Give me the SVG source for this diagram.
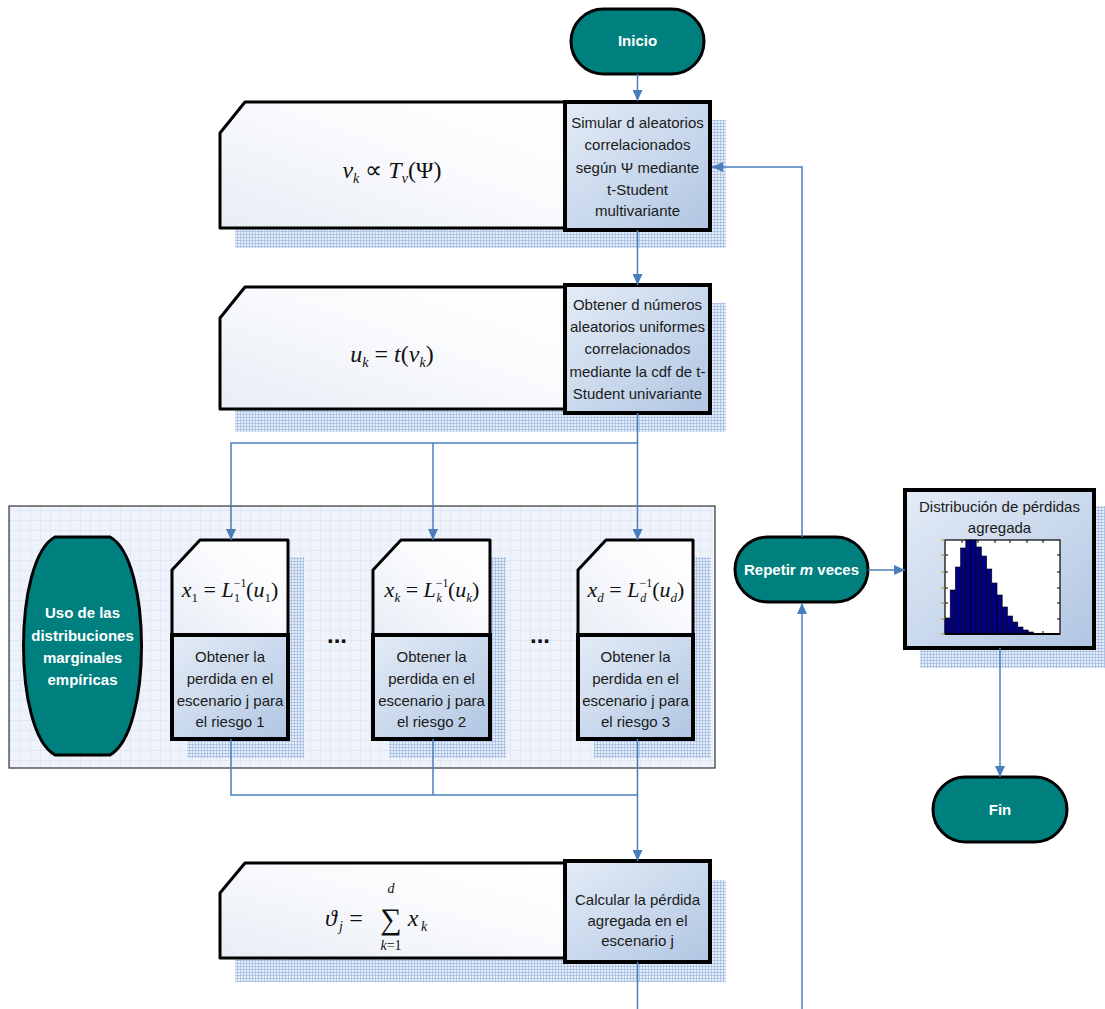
<svg xmlns="http://www.w3.org/2000/svg" width="1105" height="1009" viewBox="0 0 1105 1009">
<defs>
  <pattern id="mesh" width="3" height="3" patternUnits="userSpaceOnUse">
    <rect width="3" height="3" fill="#e8eef8"/>
    <path d="M0 0.5H3M0.5 0V3" stroke="#a3bce2" stroke-width="0.8"/>
  </pattern>
  <pattern id="grid" width="10" height="10" patternUnits="userSpaceOnUse">
    <rect width="10" height="10" fill="#eef2fa"/>
    <path d="M0 0.5H10M0.5 0V10" stroke="#dde4f1" stroke-width="0.7"/>
  </pattern>
  <linearGradient id="blueFill" x1="0" y1="0" x2="1" y2="1">
    <stop offset="0" stop-color="#e4ecf7"/>
    <stop offset="1" stop-color="#b1c6e2"/>
  </linearGradient>
  <linearGradient id="whiteFill" x1="0" y1="1" x2="1" y2="0">
    <stop offset="0" stop-color="#e8edf5"/>
    <stop offset="0.6" stop-color="#fafbfd"/>
    <stop offset="1" stop-color="#ffffff"/>
  </linearGradient>
  <marker id="arr" markerWidth="11" markerHeight="10" refX="11" refY="5" orient="auto" markerUnits="userSpaceOnUse">
    <path d="M0,0 L11,5 L0,10 Z" fill="#4a7ebb"/>
  </marker>
  <style>
    .shadow { fill: url(#mesh); }
    .wbox { fill: url(#whiteFill); stroke: #000; stroke-width: 3; stroke-linejoin: round; }
    .bbox { fill: url(#blueFill); stroke: #000; stroke-width: 4; }
    .term { fill: #007f7f; stroke: #000; stroke-width: 3; }
    .lbl { font-family: "Liberation Sans", Arial, sans-serif; font-size: 15px; fill: #1a1a1a; text-anchor: middle; }
    .tlbl { font-family: "Liberation Sans", Arial, sans-serif; font-size: 15px; font-weight: bold; fill: #ffffff; text-anchor: middle; }
    .math { font-family: "Liberation Serif", "Times New Roman", serif; font-size: 24px; fill: #111; text-anchor: middle; }
    .smath { font-family: "Liberation Serif", "Times New Roman", serif; font-size: 22px; fill: #111; text-anchor: middle; }
    .it { font-style: italic; }
    .conn { fill: none; stroke: #4a7ebb; stroke-width: 1.5; }
    .bar { fill: #000080; stroke: #000; stroke-width: 0.6; }
  </style>
</defs>
<rect width="1105" height="1009" fill="#ffffff"/>

<!-- container -->
<g id="container">
  <rect x="9" y="506" width="706" height="262" fill="url(#grid)" stroke="#333" stroke-width="1.2"/>
  <text x="337" y="643" font-family="Liberation Sans, Arial, sans-serif" font-size="24" font-weight="bold" text-anchor="middle" fill="#111">...</text>
  <text x="540" y="643" font-family="Liberation Sans, Arial, sans-serif" font-size="24" font-weight="bold" text-anchor="middle" fill="#111">...</text>
</g>

<!-- Inicio -->
<g id="n_inicio">
  <rect class="term" x="571" y="9" width="133" height="65" rx="32.5"/>
  <text class="tlbl" x="637.5" y="46">Inicio</text>
</g>

<!-- Box 1 -->
<g id="n_simular">
  <rect class="shadow" x="235" y="120" width="491" height="128"/>
  <path class="wbox" d="M245 102 L565 102 L565 228 L220 228 L220 133 Z"/>
  <rect class="bbox" x="565" y="102" width="145" height="128"/>
  <text class="math" x="392" y="178"><tspan class="it">v</tspan><tspan class="it" dy="5" font-size="14">k</tspan><tspan dy="-5"> ∝ </tspan><tspan class="it">T</tspan><tspan class="it" dy="5" font-size="14">v</tspan><tspan dy="-5">(Ψ)</tspan></text>
  <text class="lbl" x="637.5" y="128">Simular d aleatorios</text>
  <text class="lbl" x="637.5" y="150">correlacionados</text>
  <text class="lbl" x="637.5" y="173">según Ψ mediante</text>
  <text class="lbl" x="637.5" y="195">t-Student</text>
  <text class="lbl" x="637.5" y="216">multivariante</text>
</g>

<!-- Box 2 -->
<g id="n_uniformes">
  <rect class="shadow" x="235" y="303" width="491" height="129"/>
  <path class="wbox" d="M245 287 L565 287 L565 409 L220 409 L220 318 Z"/>
  <rect class="bbox" x="565" y="285" width="145" height="128"/>
  <text class="math" x="392" y="362"><tspan class="it">u</tspan><tspan class="it" dy="5" font-size="14">k</tspan><tspan dy="-5"> = </tspan><tspan class="it">t</tspan><tspan>(</tspan><tspan class="it">v</tspan><tspan class="it" dy="5" font-size="14">k</tspan><tspan dy="-5">)</tspan></text>
  <text class="lbl" x="637.5" y="310">Obtener d números</text>
  <text class="lbl" x="637.5" y="332">aleatorios uniformes</text>
  <text class="lbl" x="637.5" y="354">correlacionados</text>
  <text class="lbl" x="637.5" y="377">mediante la cdf de t-</text>
  <text class="lbl" x="637.5" y="399">Student univariante</text>
</g>

<!-- Marginales -->
<g id="n_marginales">
  <path class="term" d="M55 537 L110 537 C152 560 152 732 110 755 L55 755 C13 732 13 560 55 537 Z"/>
  <text class="tlbl" x="82.5" y="618">Uso de las</text>
  <text class="tlbl" x="82.5" y="641">distribuciones</text>
  <text class="tlbl" x="82.5" y="663">marginales</text>
  <text class="tlbl" x="82.5" y="685">empíricas</text>
</g>

<!-- x1 -->
<g id="n_x1">
  <rect class="shadow" x="187" y="557" width="117" height="201"/>
  <path class="wbox" d="M200 540 L288 540 L288 635 L172 635 L172 570 Z"/>
  <rect class="bbox" x="172" y="635" width="116" height="104"/>
  <text class="smath" x="230" y="597"><tspan class="it">x</tspan><tspan dy="5" font-size="13">1</tspan><tspan dy="-5"> = </tspan><tspan class="it">L</tspan><tspan dy="-10" font-size="12">−1</tspan><tspan dx="-12" dy="15" font-size="12">1</tspan><tspan dx="6" dy="-5">(</tspan><tspan class="it">u</tspan><tspan dy="5" font-size="13">1</tspan><tspan dy="-5">)</tspan></text>
  <text class="lbl" x="230" y="662">Obtener la</text>
  <text class="lbl" x="230" y="684">perdida en el</text>
  <text class="lbl" x="230" y="706">escenario j para</text>
  <text class="lbl" x="230" y="727">el riesgo 1</text>
</g>

<!-- xk -->
<g id="n_xk">
  <rect class="shadow" x="389" y="557" width="117" height="201"/>
  <path class="wbox" d="M401 540 L490 540 L490 635 L373 635 L373 570 Z"/>
  <rect class="bbox" x="373" y="635" width="117" height="104"/>
  <text class="smath" x="432" y="597"><tspan class="it">x</tspan><tspan class="it" dy="5" font-size="13">k</tspan><tspan dy="-5"> = </tspan><tspan class="it">L</tspan><tspan dy="-10" font-size="12">−1</tspan><tspan class="it" dx="-12" dy="15" font-size="12">k</tspan><tspan dx="6" dy="-5">(</tspan><tspan class="it">u</tspan><tspan class="it" dy="5" font-size="13">k</tspan><tspan dy="-5">)</tspan></text>
  <text class="lbl" x="431.5" y="662">Obtener la</text>
  <text class="lbl" x="431.5" y="684">perdida en el</text>
  <text class="lbl" x="431.5" y="706">escenario j para</text>
  <text class="lbl" x="431.5" y="727">el riesgo 2</text>
</g>

<!-- xd -->
<g id="n_xd">
  <rect class="shadow" x="594" y="557" width="117" height="201"/>
  <path class="wbox" d="M606 540 L693 540 L693 635 L578 635 L578 570 Z"/>
  <rect class="bbox" x="578" y="635" width="115" height="104"/>
  <text class="smath" x="636" y="597"><tspan class="it">x</tspan><tspan class="it" dy="5" font-size="13">d</tspan><tspan dy="-5"> = </tspan><tspan class="it">L</tspan><tspan dy="-10" font-size="12">−1</tspan><tspan class="it" dx="-12" dy="15" font-size="12">d</tspan><tspan dx="6" dy="-5">(</tspan><tspan class="it">u</tspan><tspan class="it" dy="5" font-size="13">d</tspan><tspan dy="-5">)</tspan></text>
  <text class="lbl" x="635.5" y="662">Obtener la</text>
  <text class="lbl" x="635.5" y="684">perdida en el</text>
  <text class="lbl" x="635.5" y="706">escenario j para</text>
  <text class="lbl" x="635.5" y="727">el riesgo 3</text>
</g>

<!-- Box 4 -->
<g id="n_agregada">
  <rect class="shadow" x="235" y="880" width="491" height="102"/>
  <path class="wbox" d="M245 863 L565 863 L565 958 L220 958 L220 893 Z"/>
  <rect class="bbox" x="565" y="861" width="145" height="101"/>
  <text class="math it" x="331" y="926">ϑ</text>
  <text class="math it" x="341" y="931" style="font-size:14px">j</text>
  <text class="math" x="356" y="926">=</text>
  <text class="math" x="391" y="929" style="font-size:30px">∑</text>
  <text class="math it" x="391" y="893" style="font-size:14px">d</text>
  <text class="math" x="391" y="950" style="font-size:14px"><tspan class="it">k</tspan>=1</text>
  <text class="math it" x="413" y="926">x</text>
  <text class="math it" x="424" y="931" style="font-size:14px">k</text>
  <text class="lbl" x="637.5" y="905">Calcular la pérdida</text>
  <text class="lbl" x="637.5" y="926">agregada en el</text>
  <text class="lbl" x="637.5" y="946">escenario j</text>
</g>

<!-- Repetir -->
<g id="n_repetir">
  <rect class="term" x="735" y="537" width="133" height="65" rx="32.5"/>
  <text class="tlbl" x="801.5" y="575">Repetir <tspan font-style="italic">m</tspan> veces</text>
</g>

<!-- Histogram -->
<g id="n_hist">
  <rect class="shadow" x="920" y="506" width="185" height="162"/>
  <rect class="bbox" x="905" y="490" width="189" height="158"/>
  <text class="lbl" x="999.5" y="512">Distribución de pérdidas</text>
  <text class="lbl" x="999.5" y="533">agregada</text>
  <rect x="945" y="540" width="115" height="94" fill="#fff" stroke="#000" stroke-width="1.2"/>
  <g>
    <rect class="bar" x="945" y="618" width="5.2" height="16"/>
    <rect class="bar" x="950.2" y="590" width="5.2" height="44"/>
    <rect class="bar" x="955.4" y="567" width="5.2" height="67"/>
    <rect class="bar" x="960.6" y="548" width="5.2" height="86"/>
    <rect class="bar" x="965.8" y="540" width="5.2" height="94"/>
    <rect class="bar" x="971" y="540" width="5.2" height="94"/>
    <rect class="bar" x="976.2" y="547" width="5.2" height="87"/>
    <rect class="bar" x="981.4" y="556" width="5.2" height="78"/>
    <rect class="bar" x="986.6" y="569" width="5.2" height="65"/>
    <rect class="bar" x="991.8" y="583" width="5.2" height="51"/>
    <rect class="bar" x="997" y="595" width="5.2" height="39"/>
    <rect class="bar" x="1002.2" y="607" width="5.2" height="27"/>
    <rect class="bar" x="1007.4" y="616" width="5.2" height="18"/>
    <rect class="bar" x="1012.6" y="622" width="5.2" height="12"/>
    <rect class="bar" x="1017.8" y="627" width="5.2" height="7"/>
    <rect class="bar" x="1023" y="630" width="5.2" height="4"/>
    <rect class="bar" x="1028.2" y="632" width="5.2" height="2"/>
  </g>
  <path d="M945 555h3M945 572h3M945 588h3M945 603h3M945 619h3 M1060 555h-3M1060 572h-3M1060 588h-3M1060 603h-3M1060 619h-3 M962 634v-3M978 634v-3M995 634v-3M1010 634v-3M1027 634v-3M1043 634v-3 M962 540v3M978 540v3M995 540v3M1010 540v3M1027 540v3M1043 540v3" stroke="#000" stroke-width="1"/>
  <path d="M941 540h4M941 555h4M941 572h4M941 588h4M941 603h4M941 619h4M941 634h4" stroke="#c08a30" stroke-width="1"/>
  <line x1="945" y1="634" x2="1060" y2="634" stroke="#000" stroke-width="2"/>
</g>

<!-- Fin -->
<g id="n_fin">
  <rect class="term" x="933" y="777" width="134" height="65" rx="32.5"/>
  <text class="tlbl" x="1000" y="815">Fin</text>
</g>

<!-- Connectors -->
<g id="connectors">
  <path class="conn" d="M637.5 74 V101" marker-end="url(#arr)"/>
  <path class="conn" d="M637.5 230 V285" marker-end="url(#arr)"/>
  <path class="conn" d="M637.5 413 V443 H231 V540" marker-end="url(#arr)"/>
  <path class="conn" d="M433 443 V540" marker-end="url(#arr)"/>
  <path class="conn" d="M637.5 443 V540" marker-end="url(#arr)"/>
  <path class="conn" d="M231 739 V795 H637.5"/>
  <path class="conn" d="M433 739 V795"/>
  <path class="conn" d="M637.5 739 V861" marker-end="url(#arr)"/>
  <path class="conn" d="M637.5 962 V1009"/>
  <path class="conn" d="M802 1009 V603" marker-end="url(#arr)"/>
  <path class="conn" d="M802 537 V167 H712" marker-end="url(#arr)"/>
  <path class="conn" d="M868 570 H905" marker-end="url(#arr)"/>
  <path class="conn" d="M1000 648 V777" marker-end="url(#arr)"/>
</g>
</svg>
